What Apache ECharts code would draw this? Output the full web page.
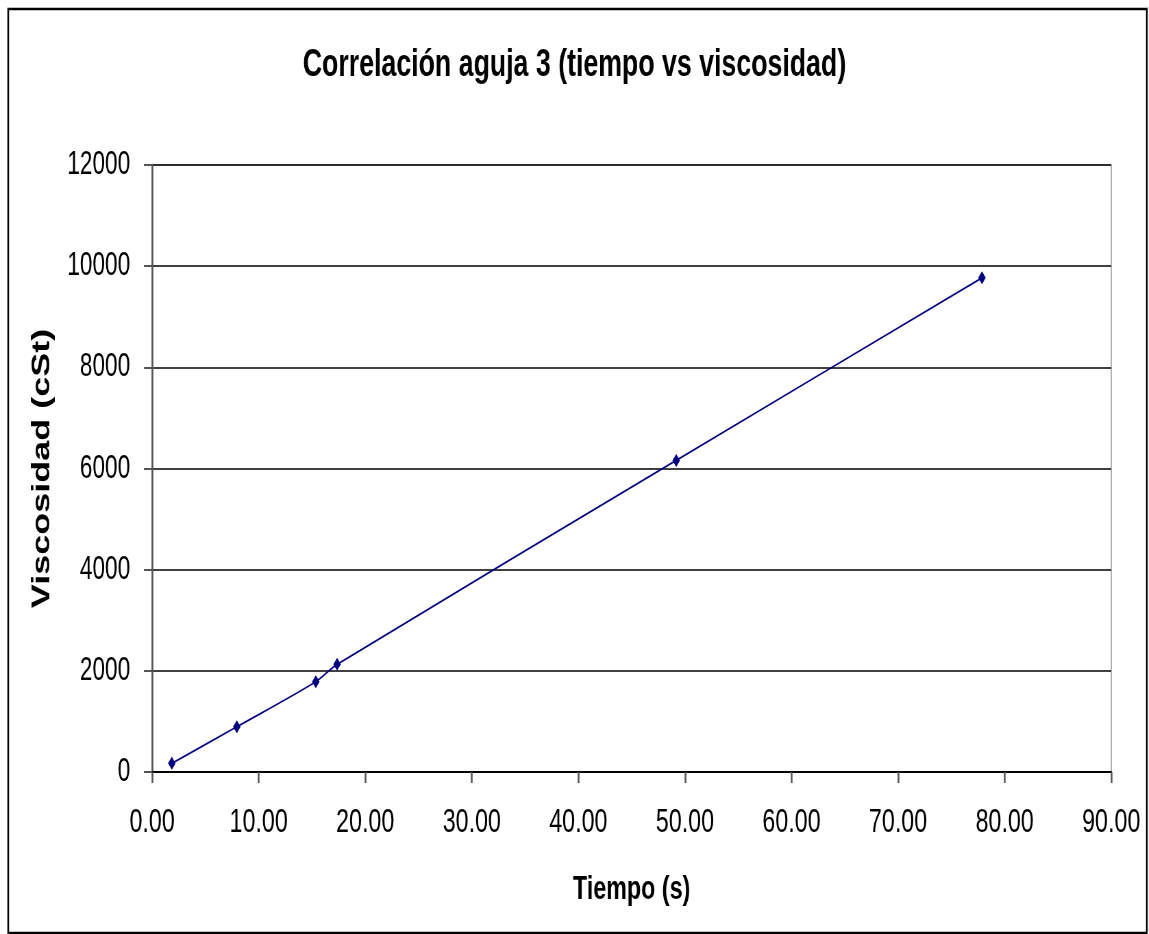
<!DOCTYPE html>
<html><head><meta charset="utf-8">
<script src="https://cdn.jsdelivr.net/npm/echarts@6/dist/echarts.min.js"></script>
<style>
html,body{margin:0;padding:0;background:#fff;overflow:hidden}
#wrap{width:1149px;height:934px;overflow:hidden}
#c{width:1677px;height:934px;transform:scaleX(0.6851);transform-origin:0 0}
</style>
</head><body><div id="wrap"><div id="c"></div></div>
<script>
const tiempo = [1.85, 7.95, 15.36, 17.36, 49.18, 77.87];
const viscosidad = [172, 895, 1785, 2128, 6160, 9769];
const xTicks = {min: 0, max: 90, step: 10};
const yTicks = {min: 0, max: 12000, step: 2000};
const titleText = 'Correlación aguja 3 (tiempo vs viscosidad)';
const xName = 'Tiempo (s)';
const yName = 'Viscosidad (cSt)';

const font = '"Liberation Sans", Arial, sans-serif';
const chart = echarts.init(document.getElementById('c'), null, {renderer: 'canvas'});
chart.setOption({
  animation: false,
  backgroundColor: '#fff',
  graphic: [{type: 'rect', shape: {x: 12, y: 9, width: 1662, height: 924}, style: {fill: 'none', stroke: '#000', lineWidth: 2.5}, silent: true}],
  title: {text: titleText, left: 'center', top: 41, textStyle: {fontFamily: font, fontSize: 39, fontWeight: 'bold', color: '#000'}},
  grid: {left: 222, right: 55, top: 165, bottom: 162, show: true, borderColor: '#999', borderWidth: 1.5},
  xAxis: {
    type: 'value', min: xTicks.min, max: xTicks.max, interval: xTicks.step,
    name: xName, nameLocation: 'middle', nameGap: 101,
    nameTextStyle: {fontFamily: font, fontSize: 34, fontWeight: 'bold', color: '#000'},
    axisLine: {show: true, lineStyle: {color: '#000', width: 2}},
    axisTick: {show: true, length: 11, lineStyle: {color: '#555', width: 2.5}},
    axisLabel: {margin: 34, fontFamily: font, fontSize: 34, color: '#000', formatter: v => v.toFixed(2)},
    splitLine: {show: false}
  },
  yAxis: {
    type: 'value', min: yTicks.min, max: yTicks.max, interval: yTicks.step,
    name: yName, nameLocation: 'middle', nameGap: 142,
    nameTextStyle: {fontFamily: font, fontSize: 36, fontWeight: 'bold', color: '#000'},
    axisLine: {show: true, lineStyle: {color: '#555', width: 2.5}},
    axisTick: {show: true, length: 12, lineStyle: {color: '#555', width: 2}},
    axisLabel: {margin: 32, fontFamily: font, fontSize: 33, color: '#000', formatter: v => String(v)},
    splitLine: {show: true, lineStyle: {color: '#000', width: 1.5}}
  },
  series: [{
    type: 'line', data: tiempo.map((t, i) => [t, viscosidad[i]]),
    smooth: 0.3, symbol: 'diamond', symbolSize: [11, 13],
    lineStyle: {color: '#000080', width: 1.8},
    itemStyle: {color: '#000080'}
  }]
});
</script></body></html>
